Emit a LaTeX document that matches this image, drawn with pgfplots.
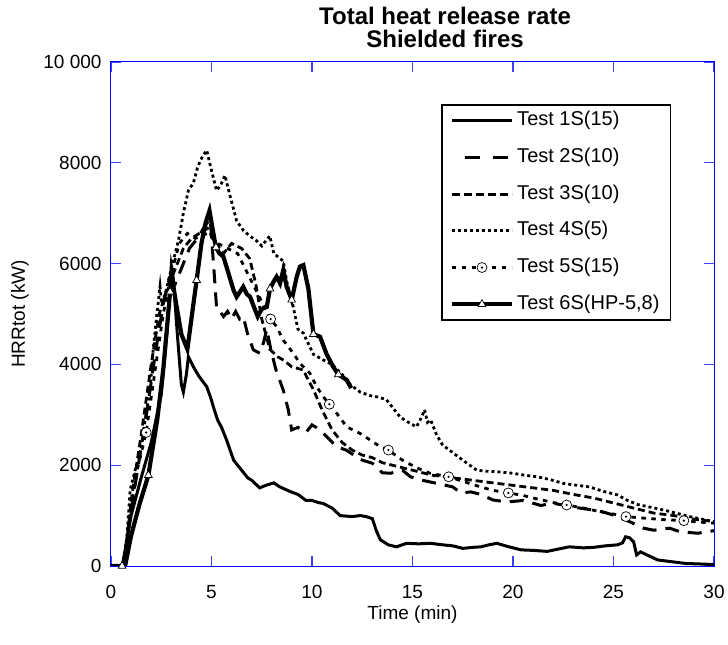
\documentclass[border=0pt]{standalone}
\usepackage{fontspec}
\setmainfont{Liberation Sans}
\usepackage{pgfplots}
\pgfplotsset{compat=1.18}
\pgfdeclareplotmark{odot}{%
  \pgfpathcircle{\pgfpointorigin}{\pgfplotmarksize}%
  \pgfusepathqfillstroke
  \pgfscope
  \pgfsetfillcolor{black}%
  \pgfpathcircle{\pgfpointorigin}{0.25\pgfplotmarksize}%
  \pgfusepathqfill
  \endpgfscope}
\begin{document}
\begin{tikzpicture}
\useasboundingbox (-111bp,-79bp) rectangle (617bp,566bp);
\begin{axis}[
  at={(0,0)}, anchor=south west,
  scale only axis, width=603bp, height=504bp,
  xmin=0, xmax=30, ymin=0, ymax=10000,
  clip mode=individual,
  xtick={0,5,10,15,20,25,30},
  ytick={0,2000,4000,6000,8000,10000},
  yticklabels={0,2000,4000,6000,8000,10 000},
  scaled y ticks=false,
  /pgf/number format/assume math mode=true,
  tick align=inside,
  major tick length=10bp,
  axis line style={draw=blue, line width=1bp},
  every tick/.style={draw=blue!75, line width=1.2bp},
  tick label style={font=\fontsize{19bp}{22bp}\selectfont},
  xticklabel style={yshift=-16bp},
  yticklabel style={xshift=-6bp},
  xlabel={Time (min)},
  ylabel={HRRtot (kW)},
  label style={font=\fontsize{19bp}{22bp}\selectfont},
  xlabel style={at={(axis description cs:0.5,-0.106)}, anchor=base},
  ylabel style={at={(axis description cs:-0.151,0.5)}, anchor=center},
  title={Total heat release rate\\Shielded fires},
  title style={at={(axis description cs:0.554,1)}, anchor=south, align=center,
    font=\fontsize{24bp}{23bp}\selectfont\bfseries, inner sep=0pt, yshift=8bp},
  legend image code/.code={\draw[mark repeat=2,mark phase=2,#1] plot coordinates {(0bp,0bp) (30bp,0bp) (60bp,0bp)};},
  legend cell align=left,
  legend style={at={(axis description cs:0.547,0.917)}, anchor=north west,
    draw=black, line width=1.8bp, inner xsep=8bp, inner ysep=7bp,
    font=\fontsize{20bp}{24bp}\selectfont,
    nodes={inner xsep=3bp, inner ysep=0bp, text height=14bp, text depth=4bp},
    row sep=18.7bp},
]
% ---- Test 1S(15)
\addplot[forget plot, black, line width=3bp] coordinates {
(0,0) (0.55,0) (0.7,300) (1.0,1000) (1.5,1750) (2.0,2450) (2.5,3400) (2.8,4700) (3.0,5950) (3.1,5700) (3.3,4600) (3.5,3600) (3.6,3450) (3.75,3800) (3.85,4150) (4.1,3950) (4.4,3750) (4.76,3560) (4.95,3350) (5.1,3150) (5.3,2900) (5.5,2750) (5.75,2500) (6.1,2100) (6.5,1900) (6.8,1750) (7.0,1700) (7.4,1550) (7.7,1600) (8.1,1650) (8.4,1570) (8.9,1480) (9.3,1420) (9.7,1300) (10.0,1300) (10.3,1260) (10.56,1240) (11.0,1150) (11.4,1000) (12.0,980) (12.4,1000) (12.7,980) (13.0,940) (13.2,700) (13.4,520) (13.8,420) (14.2,380) (14.7,450) (15.3,440) (15.9,450) (16.5,420) (17.0,400) (17.5,350) (18.0,370) (18.4,380) (18.8,420) (19.2,450) (19.8,380) (20.4,320) (21.0,310) (21.7,290) (22.3,340) (22.8,380) (23.5,360) (24.0,370) (24.6,400) (25.2,420) (25.45,460) (25.6,580) (25.8,560) (26.0,480) (26.15,220) (26.35,280) (26.5,250) (27.2,120) (28.0,80) (28.6,50) (29.3,40) (30,30)
};
% ---- Test 2S(10)
\addplot[forget plot, black, line width=3bp, dash pattern=on 14bp off 9bp] coordinates {
(0,0) (0.6,0) (0.75,400) (1.0,1100) (1.4,2100) (1.8,3100) (2.2,4200) (2.6,5200) (2.9,5700) (3.2,5600) (3.5,5900) (3.9,6300) (4.3,6500) (4.6,6700) (4.93,6900) (5.1,6000) (5.26,5080) (5.42,5050) (5.6,4950) (5.8,5050) (6.0,4900) (6.2,5050) (6.4,4900) (6.58,4950) (6.8,4600) (7.08,4290) (7.41,4220) (7.6,4450) (7.75,4700) (7.95,4300) (8.2,3900) (8.57,3490) (8.82,3100) (8.99,2700) (9.3,2750) (9.7,2650) (10.0,2800) (10.4,2700) (10.9,2500) (11.2,2370) (11.7,2300) (12.2,2170) (12.5,2100) (13.0,2040) (13.5,1850) (13.9,1840) (14.5,1900) (14.9,1770) (15.5,1700) (16.2,1640) (17.0,1570) (17.4,1450) (17.9,1470) (18.4,1420) (19.0,1310) (19.7,1270) (20.5,1300) (21.4,1200) (21.9,1250) (22.5,1210) (23.3,1150) (24.0,1110) (24.5,1070) (25.0,1010) (25.8,880) (26.5,750) (27.0,710) (27.8,750) (28.3,680) (29.2,650) (29.6,680) (30,700)
};
% ---- Test 3S(10)
\addplot[forget plot, black, line width=2.8bp, dash pattern=on 7bp off 4bp] coordinates {
(0,0) (0.6,0) (0.8,500) (1.0,1300) (1.5,2600) (2.0,4000) (2.4,5000) (2.8,5500) (3.2,5900) (3.6,6300) (4.0,6500) (4.4,6600) (4.8,6700) (5.2,6400) (5.6,6200) (6.0,6400) (6.5,6300) (6.9,6100) (7.2,5600) (7.5,4900) (7.9,4300) (8.3,4150) (8.6,4080) (9.0,3950) (9.57,3890) (9.8,3700) (10.07,3500) (10.5,3100) (11.0,2700) (11.5,2450) (12.0,2300) (12.5,2200) (13.0,2150) (13.5,2050) (14.0,2000) (14.5,1950) (15.0,1900) (15.5,1850) (16.0,1800) (16.5,1780) (17.0,1750) (18.0,1700) (19.0,1650) (20.0,1600) (21.0,1550) (22.0,1500) (23.0,1420) (24.0,1350) (25.0,1250) (26.0,1150) (27.0,1050) (28.0,1000) (29.0,930) (30.0,880)
};
% ---- Test 4S(5)
\addplot[forget plot, black, line width=2.8bp, dash pattern=on 3bp off 3bp] coordinates {
(0,0) (0.6,0) (0.8,600) (0.95,1500) (1.2,1900) (1.44,2200) (1.7,2900) (1.94,3500) (2.1,4300) (2.27,4950) (2.44,5540) (2.52,5200) (2.7,5400) (3.0,5900) (3.35,6450) (3.6,7000) (3.85,7450) (4.1,7600) (4.3,7900) (4.45,8050) (4.6,8150) (4.76,8250) (5.0,7850) (5.25,7450) (5.45,7550) (5.67,7750) (5.92,7350) (6.25,6850) (6.6,6650) (6.9,6550) (7.25,6450) (7.5,6350) (7.9,6550) (8.1,6200) (8.57,6050) (8.74,5650) (9.07,5140) (9.3,4700) (9.57,4620) (10.07,4200) (10.5,4100) (11.0,4000) (11.5,3800) (11.9,3600) (12.4,3450) (12.9,3380) (13.3,3350) (13.7,3300) (14.0,3150) (14.4,2950) (14.8,2850) (15.2,2760) (15.45,2950) (15.6,3100) (15.75,2850) (15.9,2900) (16.2,2600) (16.5,2400) (17.0,2250) (17.5,2100) (18.2,1900) (18.7,1880) (19.2,1870) (20.0,1840) (20.6,1800) (21.2,1770) (21.8,1720) (22.5,1640) (23.2,1600) (23.8,1570) (24.5,1480) (25.2,1410) (25.7,1300) (26.2,1220) (26.8,1170) (27.5,1110) (28.2,1040) (28.8,980) (29.4,930) (30,880)
};
% ---- Test 5S(15)
\addplot[forget plot, black, line width=2.8bp, dash pattern=on 4.5bp off 5.5bp] coordinates {
(0,0) (0.6,0) (0.9,900) (1.3,1900) (1.75,2650) (2.2,3900) (2.6,5000) (3.0,5800) (3.4,6400) (3.8,6600) (4.2,6500) (4.8,6600) (5.3,6400) (5.8,6300) (6.3,6200) (6.8,5800) (7.3,5400) (7.94,4900) (8.24,4750) (8.57,4480) (9.07,4220) (9.4,4020) (9.9,3820) (10.23,3560) (10.56,3360) (10.86,3210) (11.23,3030) (11.73,2760) (12.39,2630) (12.89,2500) (13.38,2370) (13.8,2300) (14.5,2100) (15.2,1950) (15.87,1840) (16.8,1770) (17.5,1680) (18.3,1580) (19.0,1500) (19.77,1450) (20.5,1400) (21.2,1330) (22.0,1260) (22.67,1210) (23.5,1150) (24.3,1080) (25.0,1030) (25.62,980) (26.5,950) (27.5,920) (28.5,900) (29.3,870) (30,850)
};
% ---- Test 6S(HP-5,8)
\addplot[forget plot, black, line width=4.2bp] coordinates {
(0,0) (0.7,0) (1.0,600) (1.4,1200) (1.86,1800) (2.3,2900) (2.6,3900) (2.8,4800) (2.94,5440) (3.05,5700) (3.2,5300) (3.5,4600) (3.8,4300) (4.0,4900) (4.26,5670) (4.5,6400) (4.7,6800) (4.9,7050) (5.05,6700) (5.22,6320) (5.4,6200) (5.59,6140) (5.85,5800) (6.09,5480) (6.25,5340) (6.58,5540) (6.75,5400) (6.92,5340) (7.15,5100) (7.3,4950) (7.5,5100) (7.75,5140) (7.91,5500) (8.1,5650) (8.24,5740) (8.41,5610) (8.57,5870) (8.74,5540) (8.99,5280) (9.24,5740) (9.4,5940) (9.57,5970) (9.82,5500) (10.07,4600) (10.4,4550) (10.73,4200) (11.06,3950) (11.31,3800) (11.73,3690) (11.95,3530)
};
% marks
\addplot[forget plot, only marks, mark=odot, mark size=5bp, mark options={solid, fill=white, draw=black, line width=0.7bp}] coordinates {
(1.75,2650) (7.94,4900) (10.86,3210) (13.8,2300) (16.8,1770) (19.77,1450) (22.67,1210) (25.62,980) (28.5,900)
};
\addplot[forget plot, only marks, mark=triangle*, mark size=4.5bp, mark options={solid, fill=white, draw=black, line width=0.7bp}] coordinates {
(0.55,0) (1.86,1800) (2.94,5440) (4.26,5670) (5.22,6320) (7.91,5500) (8.99,5280) (10.07,4600) (11.31,3800)
};
% legend
\addlegendimage{black, line width=3bp}
\addlegendentry{Test 1S(15)}
\addlegendimage{black, line width=3bp, dash pattern=on 15bp off 13bp, dash phase=15bp}
\addlegendentry{Test 2S(10)}
\addlegendimage{black, line width=2.8bp, dash pattern=on 8bp off 4bp}
\addlegendentry{Test 3S(10)}
\addlegendimage{black, line width=2.8bp, dash pattern=on 3bp off 3bp}
\addlegendentry{Test 4S(5)}
\addlegendimage{black, line width=2.8bp, dash pattern=on 4.5bp off 5.5bp, mark=odot, mark size=5bp, mark options={solid, fill=white, draw=black, line width=0.7bp}}
\addlegendentry{Test 5S(15)}
\addlegendimage{black, line width=4.5bp, mark=triangle*, mark size=4.5bp, mark options={solid, fill=white, draw=black, line width=0.7bp}}
\addlegendentry{Test 6S(HP-5,8)}
\end{axis}
\end{tikzpicture}
\end{document}
